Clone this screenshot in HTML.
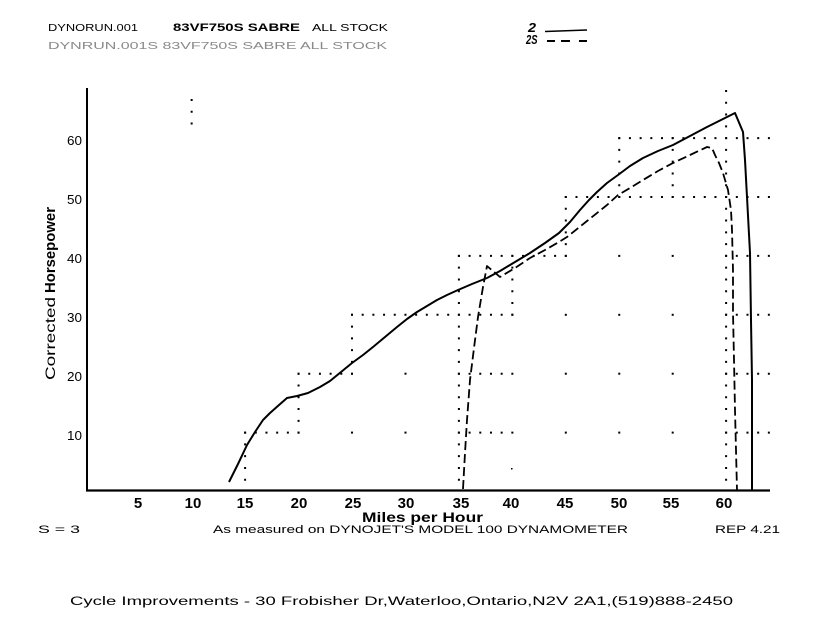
<!DOCTYPE html>
<html>
<head>
<meta charset="utf-8">
<style>
  html,body{margin:0;padding:0;background:#fff;}
  svg{display:block;}
  .t{font-family:"Liberation Sans",sans-serif;fill:#000;}
  .b{font-family:"Liberation Sans",sans-serif;font-weight:bold;fill:#000;}
</style>
</head>
<body>
<svg width="825" height="638" viewBox="0 0 825 638" xmlns="http://www.w3.org/2000/svg">
  <rect width="825" height="638" fill="#fff"/>

  <!-- Header -->
  <text class="t" x="48" y="31" font-size="10.5" textLength="90" lengthAdjust="spacingAndGlyphs">DYNORUN.001</text>
  <text class="b" x="173" y="31" font-size="11" textLength="127" lengthAdjust="spacingAndGlyphs">83VF750S SABRE</text>
  <text class="t" x="312" y="31" font-size="10.5" textLength="76" lengthAdjust="spacingAndGlyphs">ALL STOCK</text>
  <text class="t" x="48" y="49" font-size="10" style="fill:#8a8a8a" textLength="339" lengthAdjust="spacingAndGlyphs">DYNRUN.001S  83VF750S SABRE   ALL  STOCK</text>

  <!-- Legend -->
  <text class="b" x="528" y="32" font-size="13" font-style="italic" textLength="8" lengthAdjust="spacingAndGlyphs">2</text>
  <line x1="545" y1="31.5" x2="587" y2="30" stroke="#000" stroke-width="1.6"/>
  <text class="b" x="526" y="44" font-size="13" font-style="italic" textLength="11.5" lengthAdjust="spacingAndGlyphs">2S</text>
  <line x1="547" y1="41" x2="555" y2="41" stroke="#000" stroke-width="2"/>
  <line x1="561" y1="41" x2="570" y2="41" stroke="#000" stroke-width="2"/>
  <line x1="579" y1="41" x2="587" y2="41" stroke="#000" stroke-width="2"/>

  <!-- Y axis label -->
  <g transform="translate(55,380) rotate(-90)">
    <text class="t" x="0" y="0" font-size="14" textLength="83" lengthAdjust="spacingAndGlyphs">Corrected</text>
    <text class="b" x="87" y="0" font-size="15" textLength="86" lengthAdjust="spacingAndGlyphs">Horsepower</text>
  </g>

  <!-- Y tick labels -->
  <g class="t" font-size="13">
    <text x="67" y="145" textLength="15" lengthAdjust="spacingAndGlyphs">60</text>
    <text x="67" y="204" textLength="15" lengthAdjust="spacingAndGlyphs">50</text>
    <text x="67" y="263" textLength="15" lengthAdjust="spacingAndGlyphs">40</text>
    <text x="67" y="322" textLength="15" lengthAdjust="spacingAndGlyphs">30</text>
    <text x="67" y="381" textLength="15" lengthAdjust="spacingAndGlyphs">20</text>
    <text x="67" y="440" textLength="15" lengthAdjust="spacingAndGlyphs">10</text>
  </g>

  <!-- X tick labels -->
  <g class="b" font-size="15" text-anchor="middle">
    <text x="138" y="508">5</text>
    <text x="193" y="508">10</text>
    <text x="245" y="508">15</text>
    <text x="299" y="508">20</text>
    <text x="353" y="508">25</text>
    <text x="406" y="508">30</text>
    <text x="461" y="508">35</text>
    <text x="511" y="508">40</text>
    <text x="565" y="508">45</text>
    <text x="619" y="508">50</text>
    <text x="671" y="508">55</text>
    <text x="724" y="508">60</text>
  </g>
  <text class="b" x="362" y="522" font-size="13.5" textLength="121" lengthAdjust="spacingAndGlyphs">Miles per Hour</text>

  <!-- Bottom notes -->
  <text class="t" x="38" y="533" font-size="11" textLength="42" lengthAdjust="spacingAndGlyphs">S = 3</text>
  <text class="t" x="213" y="533" font-size="11" textLength="415" lengthAdjust="spacingAndGlyphs">As measured on DYNOJET'S MODEL 100 DYNAMOMETER</text>
  <text class="t" x="715" y="533" font-size="11" textLength="65" lengthAdjust="spacingAndGlyphs">REP 4.21</text>

  <!-- Footer -->
  <text class="t" x="70" y="605" font-size="11.5" textLength="663" lengthAdjust="spacingAndGlyphs">Cycle Improvements - 30 Frobisher Dr,Waterloo,Ontario,N2V 2A1,(519)888-2450</text>

  <!-- Dotted grid: horizontal -->
  <g stroke="#000" stroke-width="2" stroke-dasharray="2 8.69" fill="none">
    <line x1="244.1" y1="432.6" x2="299.6" y2="432.6"/>
    <line x1="297.55" y1="373.7" x2="353" y2="373.7"/>
    <line x1="351" y1="314.8" x2="513.4" y2="314.8"/>
    <line x1="457.9" y1="255.9" x2="566.8" y2="255.9"/>
    <line x1="457.9" y1="373.7" x2="513.4" y2="373.7"/>
    <line x1="457.9" y1="432.6" x2="513.4" y2="432.6"/>
    <line x1="564.8" y1="197" x2="771" y2="197"/>
    <line x1="618.25" y1="138.1" x2="771" y2="138.1"/>
    <line x1="725.1" y1="255.9" x2="771" y2="255.9"/>
    <line x1="725.1" y1="314.8" x2="771" y2="314.8"/>
    <line x1="725.1" y1="373.7" x2="771" y2="373.7"/>
    <line x1="725.1" y1="432.6" x2="771" y2="432.6"/>
  </g>
  <!-- Dotted grid: vertical -->
  <g stroke="#000" stroke-width="2" stroke-dasharray="2 9.78" fill="none">
    <line x1="245.1" y1="431.6" x2="245.1" y2="489"/>
    <line x1="298.55" y1="372.7" x2="298.55" y2="433.6"/>
    <line x1="352" y1="313.8" x2="352" y2="374.7"/>
    <line x1="458.9" y1="254.9" x2="458.9" y2="489"/>
    <line x1="512.35" y1="254.9" x2="512.35" y2="315.8"/>
    <line x1="565.8" y1="196" x2="565.8" y2="256.9"/>
    <line x1="619.25" y1="137.1" x2="619.25" y2="198"/>
    <line x1="672.7" y1="137.1" x2="672.7" y2="198"/>
    <line x1="726.1" y1="89.98" x2="726.1" y2="489"/>
    <line x1="191.65" y1="99" x2="191.65" y2="125"/>
  </g>
  <!-- Isolated grid dots -->
  <g fill="#000">
    <rect x="351" y="431.6" width="2" height="2"/>
    <rect x="404.5" y="431.6" width="2" height="2"/>
    <rect x="404.5" y="372.7" width="2" height="2"/>
    <rect x="564.8" y="431.6" width="2" height="2"/>
    <rect x="564.8" y="372.7" width="2" height="2"/>
    <rect x="564.8" y="313.8" width="2" height="2"/>
    <rect x="618.25" y="431.6" width="2" height="2"/>
    <rect x="618.25" y="372.7" width="2" height="2"/>
    <rect x="618.25" y="313.8" width="2" height="2"/>
    <rect x="618.25" y="254.9" width="2" height="2"/>
    <rect x="671.7" y="431.6" width="2" height="2"/>
    <rect x="671.7" y="372.7" width="2" height="2"/>
    <rect x="671.7" y="313.8" width="2" height="2"/>
    <rect x="671.7" y="254.9" width="2" height="2"/>
    <rect x="511" y="468" width="1.5" height="1.5"/>
  </g>

  <!-- Axes -->
  <line x1="87" y1="88" x2="87" y2="491" stroke="#000" stroke-width="2"/>
  <line x1="86" y1="490.5" x2="770" y2="490.5" stroke="#000" stroke-width="2.2"/>

  <!-- Series 2 (solid) -->
  <polyline fill="none" stroke="#000" stroke-width="2" stroke-linejoin="round"
    points="229,482 238,464 247,445 255,432 263,420 270,413 279,405 287,398 297,396 308,393 320,387 330,381 341,372 352,363 363,355 373,347 385,337 397,327 407,319 417,312 427,306 437,300 447,295 458,290 472,284 487,278 500,271 515,262 530,253 545,243 559,233 570,222 580,210 589,200 597,192 607,183 618,175 630,166 643,158 658,151 673,145 690,136 707,127 721,120 735,113 743,132 745,160 747,197 750,253 751,320 752,380 752,490"/>

  <!-- Series 2S (dashed) -->
  <polyline fill="none" stroke="#000" stroke-width="1.8" stroke-dasharray="9 4" stroke-linejoin="round"
    points="463,489 465,453 467,420 470,380 474,348 478,317 483,287 487,266 500,277 515,268 530,258 545,250 559,242 567,237 587,221 607,205 618,195 630,188 643,180 658,171 673,163 690,155 707,147 712,148 715,155 719,163 723,173 728,190 731,210 732,230 733,270 733,313 734,360 735,410 736,450 737,490"/>
</svg>
</body>
</html>
